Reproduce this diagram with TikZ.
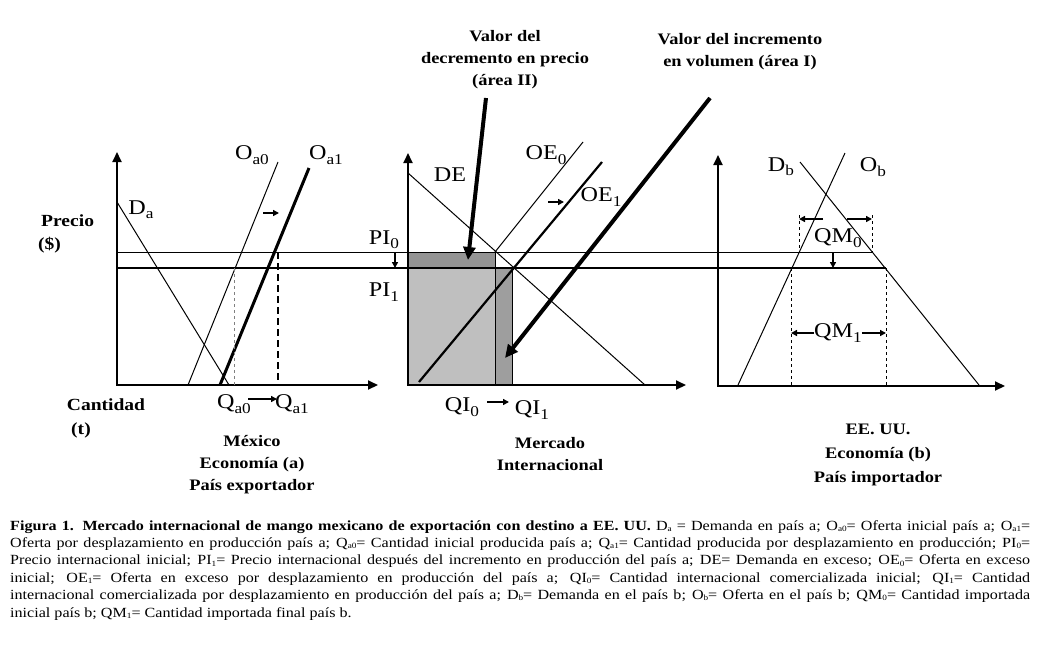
\documentclass[tikz,border=0pt]{standalone}
\usepackage{fontspec}
\setmainfont[FakeStretch=1.15]{Liberation Serif}
\usetikzlibrary{arrows.meta}

\newcommand{\lsub}[1]{\raisebox{-0.45ex}{\fontsize{15}{15}\selectfont #1}}
\newcommand{\csub}[1]{\raisebox{-0.2ex}{\fontsize{8}{8}\selectfont #1}}

\begin{document}
\begin{tikzpicture}[x=1pt,y=-1pt,
	every node/.style={inner sep=0pt},
	lbl/.style={font=\fontsize{21}{22}\selectfont},
	blbl/.style={font=\fontsize{16}{22}\selectfont\bfseries,align=center},
	axislbl/.style={font=\fontsize{17}{22}\selectfont\bfseries},
	axis/.style={line width=2pt,{Triangle[length=10pt,width=9pt]}-{Triangle[length=10pt,width=9pt]}},
	small/.style={line width=1.6pt,-{Triangle[length=6pt,width=6pt]}},
	big/.style={line width=4pt,-{Triangle[length=13pt,width=12pt]}},
	thin/.style={line width=1pt},
	guide/.style={line width=0.8pt,dashed}]
	\useasboundingbox (0,0) rectangle (1039,654);
	% areas
	\fill[black!25,draw=black,thin] (408,268) rectangle (495,385);
	\fill[black!42,draw=black,thin] (408,252) rectangle (495,268);
	\fill[black!38,draw=black,thin] (495,268) rectangle (512,385);
	% prices
	\draw[thin] (117,252) -- (872,252);
	\draw[line width=2.2pt] (117,268) -- (886,268);
	% Mexico
	\draw[axis] (117,152) -- (117,385) -- (378,385);
	\draw[thin] (117,202) -- (229,385);
	\draw[thin] (188,385) -- (278,162);
	\draw[line width=3pt] (220,385) -- (309,168);
	\draw[small] (263,213) -- (279,213);
	\draw[guide,gray] (234,268) -- (234,385);
	\draw[line width=2.2pt,dash pattern=on 7pt off 4pt] (278,252) -- (278,385);
	\node[lbl] (da) at (141,210) {D\lsub{a}};
	\node[lbl] (oa0) at (252,155) {O\lsub{a0}};
	\node[lbl] (oa1) at (326,155) {O\lsub{a1}};
	\node[axislbl,anchor=west] (precio) at (41,221) {Precio};
	\node[axislbl,anchor=west] (pesos) at (38,245) {(\$)};
	\node[axislbl] (cant) at (106,405) {Cantidad};
	\node[axislbl] (ton) at (81,430) {(t)};
	\node[lbl] (qa0) at (234,404) {Q\lsub{a0}};
	\node[lbl] (qa1) at (292,404) {Q\lsub{a1}};
	\draw[small] (248,399) -- (277,399);
	\node[blbl] (mex) at (252,465) {México\\Economía (a)\\País exportador};
	% mercado internacional
	\draw[axis] (408,153) -- (408,385) -- (686,385);
	\draw[thin] (408,173) -- (645,385);
	\draw[thin] (495,252) -- (583,142);
	\draw[line width=2.2pt] (419,382) -- (602,162);
	\draw[small] (548,202) -- (564,202);
	\draw[small] (395,252) -- (395,268);
	\node[lbl] (pi0) at (384,240) {PI\lsub{0}};
	\node[lbl] (pi1) at (384,292) {PI\lsub{1}};
	\node[lbl] (de) at (450,175) {DE};
	\node[lbl] (oe0) at (546,155) {OE\lsub{0}};
	\node[lbl] (oe1) at (601,197) {OE\lsub{1}};
	\node[lbl] (qi0) at (462,407) {QI\lsub{0}};
	\node[lbl] (qi1) at (532,410) {QI\lsub{1}};
	\draw[small] (487,402) -- (509,402);
	\node[blbl] (mi) at (550,454) {Mercado\\Internacional};
	\node[blbl] (vdp) at (505,60) {Valor del\\decremento en precio\\(área II)};
	\node[blbl] (viv) at (740,52) {Valor del incremento\\en volumen (área I)};
	\coordinate (aII) at (468,260);
	\coordinate (aI) at (505,358);
	\draw[big] (486,98) -- (aII);
	\draw[big] (710,98) -- (aI);
	% EE. UU.
	\draw[axis] (718,155) -- (718,386) -- (1005,386);
	\draw[thin] (800,162) -- (979,385);
	\draw[thin] (738,385) -- (845,153);
	\draw[guide] (799,215) -- (799,252);
	\draw[guide] (872,215) -- (872,252);
	\draw[guide] (791,268) -- (791,385);
	\draw[guide] (886,268) -- (886,385);
	\draw[small] (823,219) -- (799,219);
	\draw[small] (847,219) -- (872,219);
	\draw[small] (833,252) -- (833,268);
	\node[lbl] (db) at (781,167) {D\lsub{b}};
	\node[lbl] (ob) at (873,167) {O\lsub{b}};
	\node[lbl] (qm0) at (838,238) {QM\lsub{0}};
	\node[lbl] (qm1) at (838,333) {QM\lsub{1}};
	\draw[small] (qm1.west) -- (791,333);
	\draw[small] (qm1.east) -- (886,333);
	\node[blbl,font=\fontsize{16}{24}\selectfont\bfseries] (usa) at (878,455) {EE. UU.\\Economía (b)\\País importador};
	% caption
	\node[anchor=north west,text width=1020pt,align=justify,font=\fontsize{14}{17.4}\selectfont] (cap) at (10,520) {%
		\textbf{Figura 1. Mercado internacional de mango mexicano de exportación con destino a EE. UU.} D\csub{a} = Demanda en país a; O\csub{a0}= Oferta inicial país a; O\csub{a1}=\linebreak
		Oferta por desplazamiento en producción país a; Q\csub{a0}= Cantidad inicial producida país a; Q\csub{a1}= Cantidad producida por desplazamiento en producción; PI\csub{0}=\linebreak
		Precio internacional inicial; PI\csub{1}= Precio internacional después del incremento en producción del país a; DE= Demanda en exceso; OE\csub{0}= Oferta en exceso\linebreak
		inicial; OE\csub{1}= Oferta en exceso por desplazamiento en producción del país a; QI\csub{0}= Cantidad internacional comercializada inicial; QI\csub{1}= Cantidad\linebreak
		internacional comercializada por desplazamiento en producción del país a; D\csub{b}= Demanda en el país b; O\csub{b}= Oferta en el país b; QM\csub{0}= Cantidad importada\linebreak
		inicial país b; QM\csub{1}= Cantidad importada final país b.};
\end{tikzpicture}
\end{document}
